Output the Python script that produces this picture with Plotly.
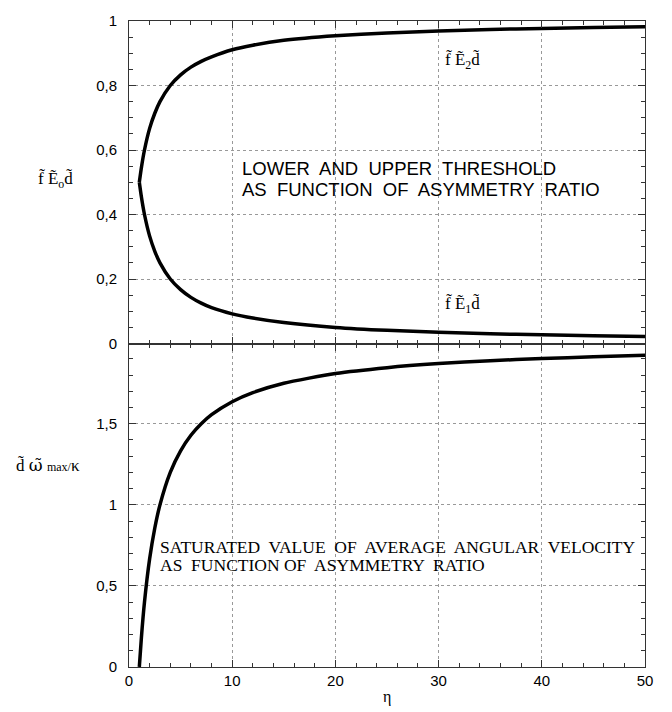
import plotly.graph_objects as go

# ---- data ----
eta = [1, 1.2, 1.5, 2, 2.5, 3, 4, 5, 6, 7, 8, 10, 12, 15, 20, 25, 30, 35, 40, 45, 50]
upper_E2 = [0.5, 0.545, 0.6, 0.667, 0.714, 0.75, 0.8, 0.833, 0.857, 0.875, 0.889, 0.911,
            0.925, 0.940, 0.954, 0.963, 0.969, 0.974, 0.977, 0.980, 0.982]
lower_E1 = [0.5, 0.455, 0.4, 0.333, 0.286, 0.25, 0.2, 0.167, 0.143, 0.125, 0.111, 0.092,
            0.079, 0.065, 0.050, 0.041, 0.035, 0.030, 0.027, 0.024, 0.022]
omega_max = [0, 0.18, 0.4, 0.667, 0.857, 1.0, 1.2, 1.333, 1.429, 1.5, 1.556, 1.636, 1.692,
             1.75, 1.81, 1.846, 1.871, 1.889, 1.902, 1.913, 1.922]

SANS = "Liberation Sans, Arial, sans-serif"
SERIF = "Liberation Serif, Times New Roman, serif"

fig = go.Figure()
line = dict(color="black", width=3.5, shape="spline", smoothing=0.6)
fig.add_trace(go.Scatter(x=eta, y=upper_E2, mode="lines", line=line, xaxis="x2", yaxis="y2"))
fig.add_trace(go.Scatter(x=eta, y=lower_E1, mode="lines", line=line, xaxis="x2", yaxis="y2"))
fig.add_trace(go.Scatter(x=eta, y=omega_max, mode="lines", line=line, xaxis="x", yaxis="y"))

split = 328 / 655
axis_common = dict(showline=True, linecolor="#333", linewidth=1, mirror="ticks",
                   ticks="inside", ticklen=7, tickcolor="#333", tickwidth=1,
                   showgrid=True, gridcolor="#999", griddash="dot", gridwidth=1,
                   zeroline=False, tickfont=dict(family=SANS, size=15, color="black"))

def minor(d):
    return dict(dtick=d, ticklen=4, ticks="inside", tickcolor="#333", tickwidth=1, showgrid=False)

fig.update_layout(
    width=672, height=712,
    margin=dict(l=129, r=27, t=12, b=45),
    paper_bgcolor="white", plot_bgcolor="white",
    showlegend=False, separators=",.",
    xaxis=dict(axis_common, domain=[0, 1], range=[0, 50], tick0=0, dtick=10, anchor="y",
               minor=minor(2)),
    yaxis=dict(axis_common, domain=[0, split], range=[0, 1.995], tick0=0, dtick=0.5, anchor="x",
               ticklabelstandoff=8, minor=minor(0.1)),
    xaxis2=dict(axis_common, domain=[0, 1], range=[0, 50], tick0=0, dtick=10, anchor="y2",
                showticklabels=False, minor=minor(2)),
    yaxis2=dict(axis_common, domain=[split, 1], range=[0, 1], tick0=0, dtick=0.2, anchor="x2",
                ticklabelstandoff=8, minor=minor(0.05)),
)

def px_x(p):
    return (p - 129) / 516

def px_y(p):
    return (667 - p) / 655

ann = []
def add(text, xp, yp, xanchor="left", size=16, family=SERIF):
    ann.append(dict(text=text, x=px_x(xp), y=px_y(yp), xref="paper", yref="paper",
                    xanchor=xanchor, yanchor="middle", showarrow=False,
                    font=dict(family=family, size=size, color="black")))

add("f\u0303 E\u0303<sub>o</sub>d\u0303", 55, 173, xanchor="center", size=17)
add("d\u0303 <span style='font-family:DejaVu Serif'>\u03c9\u0303</span> "
    "<span style='font-size:12px'>max/</span>\u03ba", 48, 462, xanchor="center", size=17)
add("LOWER  AND  UPPER  THRESHOLD", 240, 162, size=18.5, family=SANS)
add("AS  FUNCTION  OF  ASYMMETRY  RATIO", 240, 183, size=18.5, family=SANS)
add("SATURATED  VALUE  OF  AVERAGE  ANGULAR  VELOCITY", 158, 545, size=17.5)
add("AS  FUNCTION OF  ASYMMETRY  RATIO", 158, 564, size=17.5)
add("f\u0303 E\u0303<sub>2</sub>d\u0303", 443, 53, size=17)
add("f\u0303 E\u0303<sub>1</sub>d\u0303", 443, 300, size=17)
add("\u03b7", 387, 697, xanchor="center", size=16)
fig.update_layout(annotations=ann)

fig.write_html("out.html")
